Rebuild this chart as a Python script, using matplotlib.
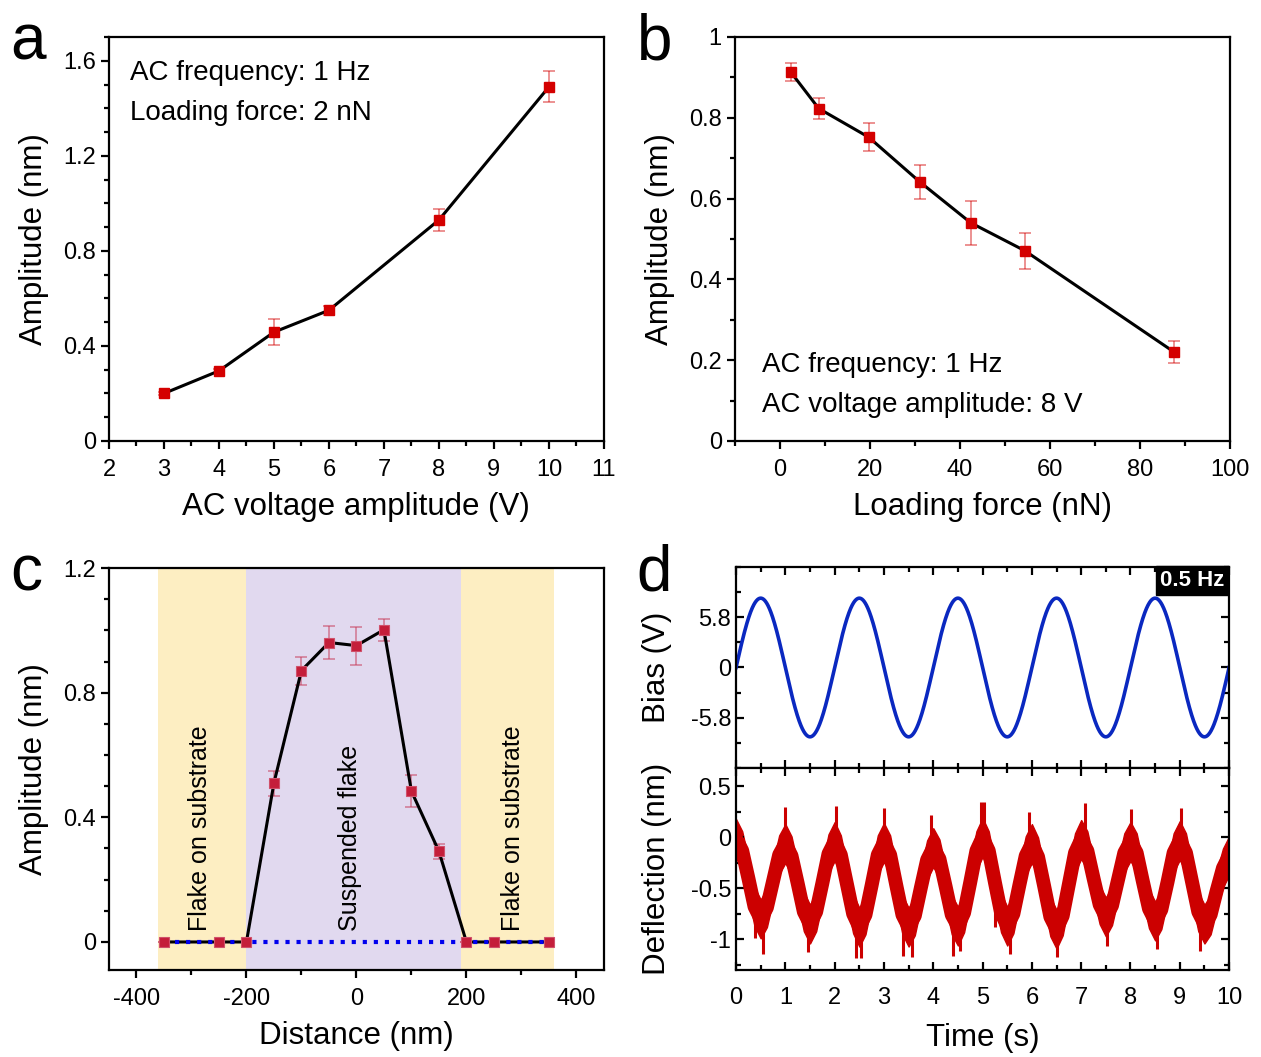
import numpy as np
import matplotlib.pyplot as plt
from matplotlib.ticker import MultipleLocator, FuncFormatter

plt.rcParams['font.family'] = ['Liberation Sans', 'DejaVu Sans']
plt.rcParams['axes.linewidth'] = 1.6
plt.rcParams['axes.unicode_minus'] = False

# (a) amplitude vs AC voltage, loading force 2 nN
volt = [3, 4, 5, 6, 8, 10]
amp_a = [0.20, 0.295, 0.458, 0.55, 0.93, 1.49]
err_a = [0.005, 0.01, 0.055, 0.02, 0.045, 0.065]

# (b) amplitude vs loading force, 8 V
force = [2.4, 8.6, 19.7, 31.1, 42.4, 54.4, 87.6]
amp_b = [0.913, 0.823, 0.752, 0.641, 0.540, 0.471, 0.220]
err_b = [0.022, 0.027, 0.035, 0.042, 0.055, 0.045, 0.027]

# (c) line profile across the suspended flake
dist = [-350, -250, -200, -150, -100, -50, 0, 50, 100, 150, 200, 250, 350]
amp_c = [0, 0, 0, 0.51, 0.871, 0.961, 0.951, 1.002, 0.484, 0.291, 0, 0, 0]
err_c = [0, 0, 0, 0.04, 0.045, 0.054, 0.061, 0.035, 0.051, 0.024, 0, 0, 0]
substrate_left = (-360, -200)
suspended = (-200, 190)
substrate_right = (190, 360)

# (d) bias drive and deflection response
bias_amp = 8.0      # V
bias_freq = 0.5     # Hz
t_defl = np.arange(81) * 0.125
defl_mid = [-0.01, -0.13, -0.40, -0.68, -0.80, -0.69, -0.43, -0.17,
            -0.06, -0.18, -0.45, -0.73, -0.85, -0.73, -0.45, -0.16,
            -0.04, -0.17, -0.46, -0.75, -0.88, -0.76, -0.47, -0.17,
            -0.05, -0.17, -0.47, -0.76, -0.88, -0.77, -0.49, -0.22,
            -0.10, -0.21, -0.48, -0.76, -0.87, -0.74, -0.44, -0.13,
            0.00, -0.13, -0.44, -0.74, -0.87, -0.75, -0.46, -0.18,
            -0.06, -0.19, -0.48, -0.78, -0.90, -0.77, -0.46, -0.15,
            -0.02, -0.13, -0.40, -0.66, -0.78, -0.67, -0.41, -0.15,
            -0.04, -0.15, -0.43, -0.70, -0.82, -0.71, -0.44, -0.15,
            -0.03, -0.15, -0.44, -0.73, -0.85, -0.76, -0.52, -0.30,
            -0.18]
defl_halfwidth = 0.19
spike_t = [0.39, 0.55, 1.45, 2.43, 2.53, 3.39, 3.56, 4.41, 4.54,
           5.25, 5.56, 6.50, 7.52, 8.53, 9.41,
           1.0, 2.03, 3.0, 3.95, 4.97, 5.02, 5.94, 7.07, 8.01, 9.02]
spike_end = [-0.99, -1.14, -1.12, -1.18, -1.18, -1.16, -1.17, -1.16, -1.11,
             -0.88, -1.14, -1.17, -1.06, -1.09, -1.11,
             0.30, 0.31, 0.29, 0.22, 0.35, 0.35, 0.25, 0.34, 0.28, 0.29]

RED = '#d40000'
TICK_FS = 17
LABEL_FS = 22.5
NOTE_FS = 20

num_fmt = FuncFormatter(lambda v, pos: '%g' % round(v, 6))


def style_out(ax, xmaj, xmin, ymaj, ymin):
    ax.xaxis.set_major_locator(MultipleLocator(xmaj))
    ax.xaxis.set_minor_locator(MultipleLocator(xmin))
    ax.yaxis.set_major_locator(MultipleLocator(ymaj))
    ax.yaxis.set_minor_locator(MultipleLocator(ymin))
    ax.xaxis.set_major_formatter(num_fmt)
    ax.yaxis.set_major_formatter(num_fmt)
    ax.tick_params(which='both', direction='out', top=False, right=False,
                   width=1.6, labelsize=TICK_FS)
    ax.tick_params(which='major', length=6)
    ax.tick_params(which='minor', length=3.5)
    ax.tick_params(axis='x', pad=7)


fig = plt.figure(figsize=(12.61, 10.57), dpi=100)

# ---- a ----
ax = fig.add_axes([0.0864, 0.5828, 0.3925, 0.3822])
ax.errorbar(volt, amp_a, yerr=err_a, fmt='none', ecolor=RED, alpha=0.5,
            elinewidth=1.2, capsize=4, capthick=1.2)
ax.plot(volt, amp_a, '-', color='black', lw=2.2, marker='s', ms=7,
        mfc=RED, mec=RED)
ax.set_xlim(2, 11)
ax.set_ylim(0, 1.7)
style_out(ax, 1, 0.5, 0.4, 0.1)
ax.set_xlabel('AC voltage amplitude (V)', fontsize=LABEL_FS, labelpad=8)
ax.set_ylabel('Amplitude (nm)', fontsize=LABEL_FS, labelpad=10)
ax.text(0.042, 0.911, 'AC frequency: 1 Hz', transform=ax.transAxes,
        fontsize=NOTE_FS, va='center')
ax.text(0.042, 0.812, 'Loading force: 2 nN', transform=ax.transAxes,
        fontsize=NOTE_FS, va='center')

# ---- b ----
ax = fig.add_axes([0.5829, 0.5828, 0.3925, 0.3822])
ax.errorbar(force, amp_b, yerr=err_b, fmt='none', ecolor=RED, alpha=0.5,
            elinewidth=1.2, capsize=4, capthick=1.2)
ax.plot(force, amp_b, '-', color='black', lw=2.2, marker='s', ms=7,
        mfc=RED, mec=RED)
ax.set_xlim(-10, 100)
ax.set_ylim(0, 1)
style_out(ax, 20, 10, 0.2, 0.1)
ax.set_xlabel('Loading force (nN)', fontsize=LABEL_FS, labelpad=8)
ax.set_ylabel('Amplitude (nm)', fontsize=LABEL_FS, labelpad=10)
ax.text(0.055, 0.188, 'AC frequency: 1 Hz', transform=ax.transAxes,
        fontsize=NOTE_FS, va='center')
ax.text(0.055, 0.089, 'AC voltage amplitude: 8 V', transform=ax.transAxes,
        fontsize=NOTE_FS, va='center')

# ---- c ----
ax = fig.add_axes([0.0864, 0.0823, 0.3925, 0.3803])
ax.axvspan(*substrate_left, color='#fdeec2', lw=0, zorder=0)
ax.axvspan(*suspended, color='#e1d9ef', lw=0, zorder=0)
ax.axvspan(*substrate_right, color='#fdeec2', lw=0, zorder=0)
ax.errorbar(dist, amp_c, yerr=err_c, fmt='none', ecolor='#c8405e', alpha=0.6,
            elinewidth=1.2, capsize=4, capthick=1.2, zorder=2)
ax.plot(dist, amp_c, '-', color='black', lw=2.2, zorder=3)
ax.plot([dist[0], dist[-1]], [0, 0], ':', color='#0000ee', lw=3, zorder=4)
ax.plot(dist, amp_c, 's', ms=7, mfc='#c41e3a', mec='#d0506a', mew=0.8,
        zorder=5)
ax.set_xlim(-450, 450)
ax.set_ylim(-0.09, 1.2)
style_out(ax, 200, 100, 0.4, 0.1)
ax.set_xlabel('Distance (nm)', fontsize=LABEL_FS, labelpad=8)
ax.set_ylabel('Amplitude (nm)', fontsize=LABEL_FS, labelpad=10)
for xc, label in [(-285, 'Flake on substrate'), (-12, 'Suspended flake'),
                  (285, 'Flake on substrate')]:
    ax.text(xc, 0.035, label, rotation=90, ha='center', va='bottom',
            fontsize=18, zorder=6)

# ---- d ----
axt = fig.add_axes([0.5837, 0.2734, 0.391, 0.1902])
axb = fig.add_axes([0.5837, 0.0823, 0.391, 0.1911], sharex=axt)

t = np.linspace(0, 10, 2001)
axt.plot(t, bias_amp * np.sin(2 * np.pi * bias_freq * t), color='#0a28c0', lw=2.6)
axt.set_ylim(-11.6, 11.6)
axt.yaxis.set_minor_locator(MultipleLocator(2.9))
axt.set_yticks([-5.8, 0, 5.8])
axt.set_yticklabels(['-5.8', '0', '5.8'])
axt.set_ylabel('Bias (V)', fontsize=LABEL_FS)
axt.text(0.99, 0.985, '0.5 Hz', transform=axt.transAxes, ha='right', va='top',
         color='white', fontsize=16, fontweight='bold',
         bbox=dict(facecolor='black', edgecolor='black', pad=2.5))

mid = np.array(defl_mid)
axb.fill_between(t_defl, mid - defl_halfwidth, mid + defl_halfwidth,
                 color='#cc0000', lw=1.0, edgecolor='#cc0000')
axb.plot(t_defl, mid, color='#cc0000', lw=10, solid_joinstyle='round')
axb.vlines(spike_t, np.interp(spike_t, t_defl, mid), spike_end,
           color='#cc0000', lw=2.2)
axb.set_ylim(-1.3, 0.68)
axb.yaxis.set_minor_locator(MultipleLocator(0.25))
axb.set_yticks([-1, -0.5, 0, 0.5])
axb.set_yticklabels(['-1', '-0.5', '0', '0.5'])
axb.set_ylabel('Deflection (nm)', fontsize=LABEL_FS)
axb.set_xlim(0, 10)
axb.xaxis.set_major_locator(MultipleLocator(1))
axb.xaxis.set_minor_locator(MultipleLocator(0.5))
axb.xaxis.set_major_formatter(num_fmt)
axb.set_xlabel('Time (s)', fontsize=LABEL_FS, labelpad=10)

for a in (axt, axb):
    a.tick_params(which='both', direction='in', top=True, right=True,
                  width=1.6, labelsize=TICK_FS)
    a.tick_params(which='major', length=6)
    a.tick_params(which='minor', length=3.5)
    a.tick_params(axis='x', pad=12)
    a.yaxis.set_label_coords(-0.13, 0.5)
axt.tick_params(labelbottom=False)

# panel letters
for x, y, s in [(0.008, 0.988, 'a'), (0.505, 0.988, 'b'),
                (0.008, 0.486, 'c'), (0.505, 0.486, 'd')]:
    fig.text(x, y, s, fontsize=46, va='top', ha='left')

fig.savefig('out.png', dpi=100)
